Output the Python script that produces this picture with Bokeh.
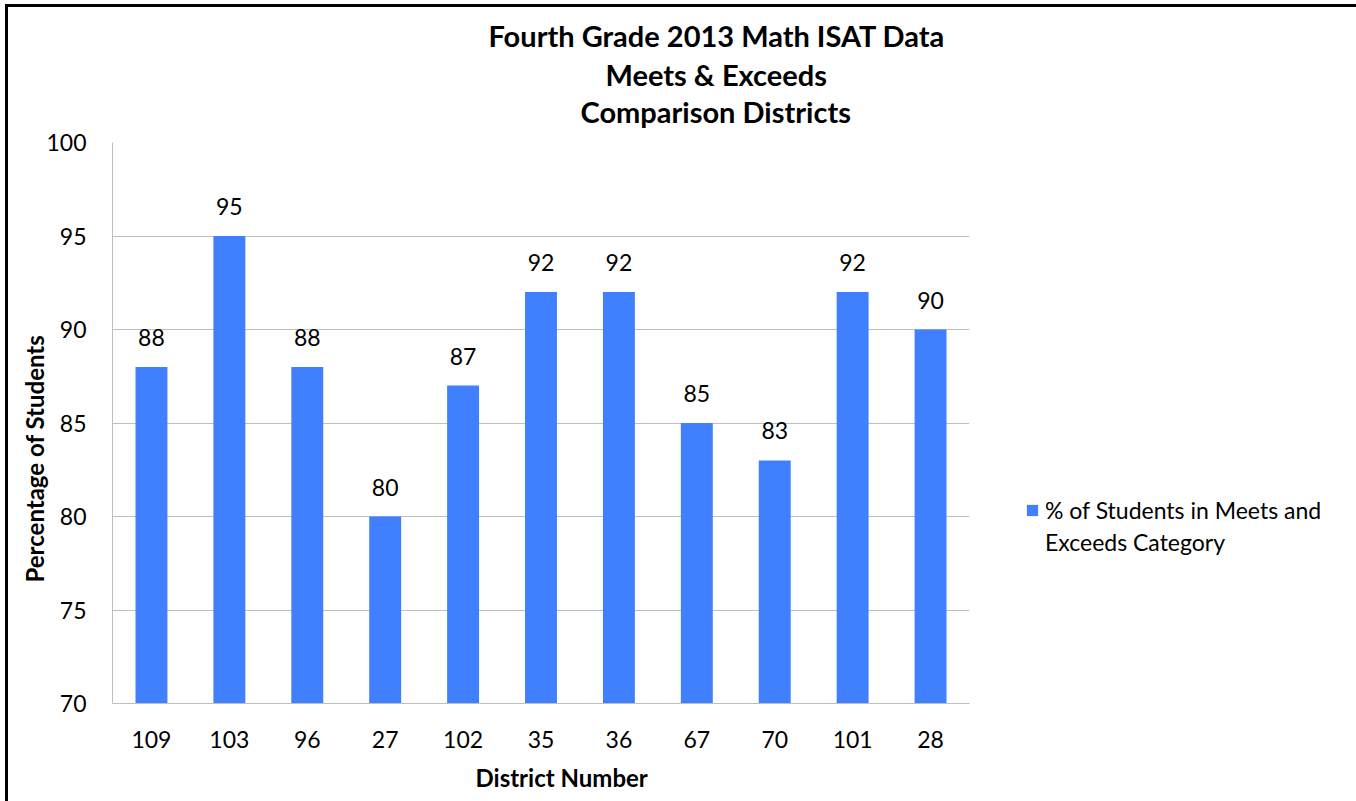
from bokeh.plotting import figure
from bokeh.models import (ColumnDataSource, FactorRange, Range1d, FixedTicker, LabelSet,
                          Legend, LegendItem, Title)
from bokeh.core.properties import value
from bokeh.embed import file_html
from bokeh.resources import INLINE

# ---- data ----
districts = ["109", "103", "96", "27", "102", "35", "36", "67", "70", "101", "28"]
pct_meets_exceeds = [88, 95, 88, 80, 87, 92, 92, 85, 83, 92, 90]
y_ticks = [70, 75, 80, 85, 90, 95, 100]
title_lines = ["Fourth Grade 2013 Math ISAT Data", "Meets & Exceeds", "Comparison Districts"]
x_axis_title = "District Number"
y_axis_title = "Percentage of Students"
series_label = ["% of Students in Meets and", "Exceeds Category"]

FONT = "Lato"
BAR = "#4080FF"
GRID = "#BFBFBF"

src = ColumnDataSource(dict(x=districts, top=pct_meets_exceeds,
                            lbl=[str(v) for v in pct_meets_exceeds]))

p = figure(x_range=FactorRange(*districts), y_range=Range1d(y_ticks[0], y_ticks[-1]),
           frame_width=857, frame_height=561, output_backend="svg", toolbar_location=None,
           title=None, min_border_left=104, min_border_right=378,
           min_border_top=135, min_border_bottom=98)
p.styles = {"margin": "4px 0 0 5px", "border-left": "3px solid black",
            "border-top": "3px solid black", "border-right": "3px solid black"}
p.outline_line_color = None
p.background_fill_color = "white"
p.border_fill_color = "white"

bars = p.vbar(x="x", top="top", width=0.41, source=src, fill_color=BAR, line_color=None)
blank = p.scatter(x=[], y=[], fill_alpha=0, line_alpha=0)

labels = LabelSet(x="x", y="top", text="lbl", source=src, text_align="center",
                  text_baseline="alphabetic", y_offset=21, text_font=value(FONT),
                  text_font_size="23px", text_color="black")
p.add_layout(labels)

# spacer between the title block and the plot area
p.add_layout(Title(text=" ", text_font_size="10px", standoff=1), "above")
# titles (first added sits closest to the plot); left offsets centre each line
title_offsets = [376, 493, 468]
title_standoffs = [4, 0, 0]
for line, off, so in reversed(list(zip(title_lines, title_offsets, title_standoffs))):
    p.add_layout(Title(text=line, align="left", offset=off, text_font=FONT,
                       text_font_size="29px", text_font_style="bold",
                       text_color="black", standoff=so), "above")

p.yaxis.ticker = FixedTicker(ticks=y_ticks)
p.ygrid.ticker = FixedTicker(ticks=y_ticks)
p.ygrid.grid_line_color = GRID
p.xgrid.grid_line_color = None

for ax in (p.xaxis, p.yaxis):
    ax.axis_line_color = GRID
    ax.major_tick_line_color = None
    ax.minor_tick_line_color = None
    ax.major_tick_out = 0
    ax.major_label_text_font = FONT
    ax.major_label_text_font_size = "23px"
    ax.major_label_text_color = "black"

p.yaxis.major_label_standoff = 26
p.xaxis.major_label_standoff = 27

# axis titles placed as side titles so they can sit off-centre like the original
p.add_layout(Title(text=x_axis_title, align="left", offset=363, text_font=FONT,
                   text_font_size="24px", text_font_style="bold", text_color="black",
                   standoff=20), "below")
p.add_layout(Title(text=y_axis_title, align="left", offset=121, text_font=FONT,
                   text_font_size="24px", text_font_style="bold", text_color="black",
                   standoff=-10), "left")

legend = Legend(items=[LegendItem(label=value(series_label[0]), renderers=[bars]),
                       LegendItem(label=value(series_label[1]), renderers=[blank])],
                location=(56, 147), glyph_width=14, glyph_height=14,
                label_standoff=6, label_text_font=FONT, label_text_font_size="23px",
                label_text_color="black", spacing=4, padding=0, margin=0,
                border_line_color=None, background_fill_alpha=0)
p.add_layout(legend, "right")

open("out.html", "w").write(file_html(p, INLINE))
